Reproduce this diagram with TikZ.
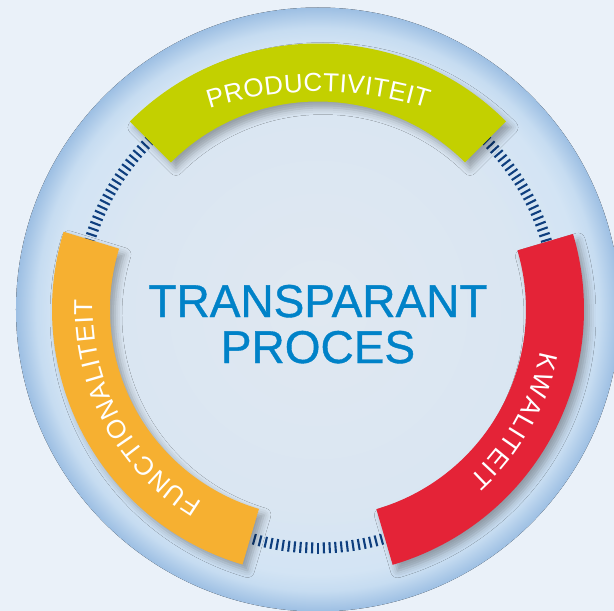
\documentclass[tikz,border=0pt]{standalone}
\usepackage{fontspec}
\setmainfont{Liberation Sans}
\newfontfamily\titlefont[FakeBold=0.8]{Liberation Sans}
\newfontfamily\bandfontfam{Liberation Sans}
\usetikzlibrary{decorations.text,shadows.blur}

\definecolor{bgcol}{HTML}{EAF1F9}
\definecolor{diskc}{HTML}{E0E8F1}
\definecolor{diskm}{HTML}{DAE6F2}
\definecolor{diske}{HTML}{D3E4F4}
\definecolor{rimin}{HTML}{C6DCF1}
\definecolor{rimout}{HTML}{9DBFE3}
\definecolor{prodgreen}{HTML}{C3D000}
\definecolor{kwalred}{HTML}{E42337}
\definecolor{funcorange}{HTML}{F6B031}
\definecolor{titleblue}{HTML}{0082C8}
\definecolor{tickblue}{HTML}{0E3E7E}

\pgfdeclareradialshading{rimshade}{\pgfpoint{0bp}{0bp}}{%
  color(0bp)=(diskc); color(16.5bp)=(diskm); color(21.9bp)=(diske);
  color(23.3bp)=(rimin); color(25bp)=(rimout); color(50bp)=(rimout)}

\newcommand\bandfont{\bandfontfam\fontsize{26}{28}\selectfont}

\tikzset{
  bandshape/.style 2 args={insert path={(#1:266) arc[start angle=#1, end angle=#2, radius=266]
      -- (#2:208) arc[start angle=#2, end angle=#1, radius=208] -- cycle}},
  bandfill/.style={fill=#1, blur shadow={shadow xshift=5pt, shadow yshift=-6pt,
      shadow blur radius=7pt, shadow opacity=32}},
  ticklines/.style={draw=tickblue, line width=2.1pt},
  bandtext/.style={decoration={text effects along path, text={#1},
      text effects/.cd, text along path, fit text to path,
      every character/.style={font=\bandfont, text=white, inner sep=0pt}}, decorate},
  titletext/.style={text=titleblue, font=\titlefont\fontsize{46}{48}\selectfont, inner sep=0pt, anchor=base}
}

\begin{document}
\begin{tikzpicture}[x=1pt,y=1pt]
\useasboundingbox (-318,-301.5) rectangle (296,309.5);
\fill[bgcol] (-318,-301.5) rectangle (296,309.5);
% outer disk with rim
\fill[shading=rimshade] (0,0) circle (302);
% tick ring
\foreach \i [evaluate=\i as \a using \i*1.40625] in {0,...,255}
  \draw[ticklines] (\a:233) -- (\a:244);
% bands
\fill[bandfill=prodgreen, bandshape={135}{45}];
\fill[bandfill=kwalred, bandshape={16.5}{-73.7}];
\fill[bandfill=funcorange, bandshape={253.5}{163}];
% band labels
\path[bandtext=PRODUCTIVITEIT] (-108.6,201.1) arc[start angle=107.6, end angle=72.4, radius=360];
\path[bandtext=KWALITEIT] (-10.7:226) arc[start angle=-10.7, end angle=-48.2, radius=226];
\path[bandtext=FUNCTIONALITEIT] (239:225) arc[start angle=239, end angle=177.5, radius=225];
% centre title
\node[titletext] (t1) at (0,-7.5) {TRANSPARANT};
\node[titletext] (t2) at (0,-53.5) {PROCES};
\end{tikzpicture}
\end{document}
